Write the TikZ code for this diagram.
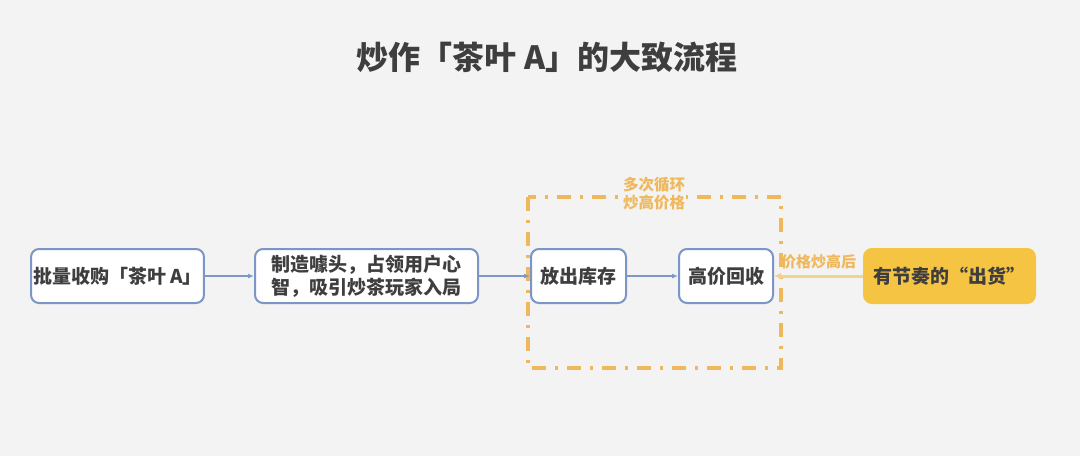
\documentclass[tikz,border=0pt]{standalone}
\usepackage{fontspec}
\setmainfont{Noto Sans CJK SC}
\usetikzlibrary{arrows.meta}

\definecolor{bgcol}{HTML}{F3F3F3}
\definecolor{txtcol}{HTML}{3E3E3E}
\definecolor{boxline}{HTML}{7B96C6}
\definecolor{arrcol}{HTML}{7F98C4}
\definecolor{loopcol}{HTML}{EFB85C}
\definecolor{hotfill}{HTML}{F6C443}
\definecolor{hotarrow}{HTML}{F1D38F}

\tikzstyle{stepbox}=[draw=boxline, line width=2pt, rounded corners=8pt, fill=white,
  minimum height=54pt, inner sep=2pt, text=txtcol, font=\fontsize{19}{23}\selectfont\bfseries]
\tikzstyle{hotbox}=[stepbox, draw=hotfill, fill=hotfill]
\tikzstyle{flow}=[draw=arrcol, line width=1.5pt, -{Latex[length=6pt,width=5pt]}]
\tikzstyle{hotflow}=[draw=hotarrow, line width=3pt, -{Latex[length=7pt,width=7pt]}]
\tikzstyle{loopframe}=[draw=loopcol, line width=4pt, dash pattern=on 14pt off 9pt on 3pt off 9pt]
\tikzstyle{looplabel}=[fill=bgcol, inner sep=1pt, align=center, text=loopcol,
  font=\fontsize{15.5}{18}\selectfont\bfseries]

\begin{document}
\begin{tikzpicture}[x=1pt,y=1pt]
\fill[bgcol] (0,0) rectangle (1080,-456);
\useasboundingbox (0,0) rectangle (1080,-456);

\node[text=txtcol, font=\fontsize{32}{36}\selectfont\bfseries] (title) at (547,-57) {炒作「茶叶 A」的大致流程};

% loop frame
\draw[loopframe] (528,-197) rectangle (781,-368);
\node[looplabel] (looptxt) at (654,-194) {多次循环\\炒高价格};

% steps
\node[stepbox, minimum width=171pt] (buy) at (117.5,-276) {批量收购「茶叶 A」};
\node[stepbox, minimum width=223pt, align=left] (hype) at (366.5,-276) {制造噱头，占领用户心\\智，吸引炒茶玩家入局};
\node[stepbox, minimum width=95pt] (release) at (578.5,-276) {放出库存};
\node[stepbox, minimum width=94pt] (buyback) at (726,-276) {高价回收};
\node[hotbox, minimum width=171pt] (sell) at (949.5,-276) {有节奏的“出货”};

% connectors
\draw[flow] (buy) -- (hype);
\draw[flow] (hype) -- (release);
\draw[flow] (release) -- (buyback);
\draw[hotflow] (sell) -- (buyback) node[midway, above=2pt, text=loopcol,
  font=\fontsize{15}{18}\selectfont\bfseries] (hotlabel) {价格炒高后};

\end{tikzpicture}
\end{document}
